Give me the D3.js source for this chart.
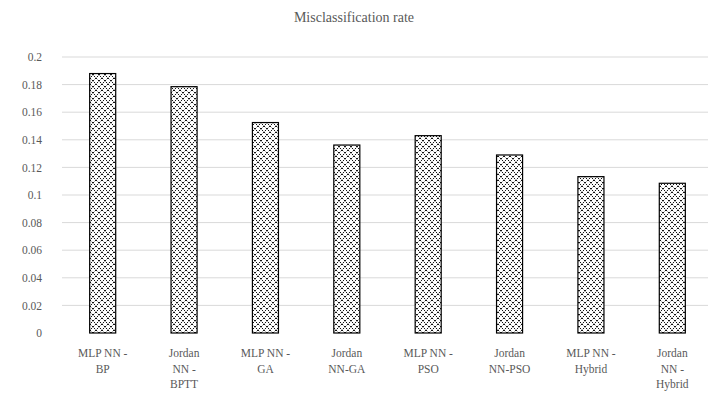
<!DOCTYPE html>
<html>
<head>
<meta charset="utf-8">
<script src="https://cdn.jsdelivr.net/npm/d3@7"></script>
<style>
  html, body { margin: 0; padding: 0; background: #fff; }
  svg { display: block; }
</style>
</head>
<body>
<svg id="chart" width="708" height="413"></svg>
<script>
// Misclassification rate per network / training method
const categories = [
  ["MLP NN -", "BP"],
  ["Jordan", "NN -", "BPTT"],
  ["MLP NN -", "GA"],
  ["Jordan", "NN-GA"],
  ["MLP NN -", "PSO"],
  ["Jordan", "NN-PSO"],
  ["MLP NN -", "Hybrid"],
  ["Jordan", "NN -", "Hybrid"]
];
const names = categories.map(c => c.join(" "));
const rates = [0.188, 0.1785, 0.1525, 0.1362, 0.143, 0.129, 0.1133, 0.1085];
const yTicks = [0, 0.02, 0.04, 0.06, 0.08, 0.1, 0.12, 0.14, 0.16, 0.18, 0.2];
const yTickLabels = ["0", "0.02", "0.04", "0.06", "0.08", "0.1", "0.12", "0.14", "0.16", "0.18", "0.2"];
const title = "Misclassification rate";

const svg = d3.select("#chart");
const font = "'Liberation Serif', 'DejaVu Serif', serif";
const textColor = "#595959";

const x = d3.scaleBand().domain(names).range([62, 713]).paddingInner(0.68).paddingOuter(0.34);
const y = d3.scaleLinear().domain([0, 0.2]).range([333, 57]);

// hatch fill for the bars
const defs = svg.append("defs");
const pat = defs.append("pattern")
  .attr("id", "weave")
  .attr("patternUnits", "userSpaceOnUse")
  .attr("width", 6).attr("height", 6);
pat.append("rect").attr("width", 6).attr("height", 6).attr("fill", "#fff");
pat.append("path")
  .attr("d", "M0,0 L6,6 M6,0 L0,6")
  .attr("stroke", "#111").attr("stroke-width", 1)
  .attr("stroke-dasharray", "1.8,1")
  .attr("fill", "none");

// title
svg.append("text")
  .attr("x", 354).attr("y", 22)
  .attr("text-anchor", "middle")
  .attr("font-family", font).attr("font-size", 14)
  .attr("fill", textColor)
  .text(title);

// gridlines
svg.append("g")
  .selectAll("line")
  .data(yTicks.filter(t => t > 0))
  .join("line")
  .attr("x1", 62).attr("x2", 708)
  .attr("y1", d => y(d)).attr("y2", d => y(d))
  .attr("stroke", "#d9d9d9").attr("stroke-width", 1);

// y axis labels
const yAxis = d3.axisLeft(y)
  .tickValues(yTicks)
  .tickFormat((d, i) => yTickLabels[i])
  .tickSize(0).tickPadding(0);
const gy = svg.append("g").attr("transform", "translate(42,0)").call(yAxis);
gy.select(".domain").remove();
gy.selectAll("text")
  .attr("font-family", font).attr("font-size", 11.5)
  .attr("fill", textColor);

// bars
svg.append("g")
  .selectAll("rect")
  .data(rates)
  .join("rect")
  .attr("x", (d, i) => x(names[i]))
  .attr("y", d => y(d))
  .attr("width", x.bandwidth())
  .attr("height", d => y(0) - y(d))
  .attr("fill", "url(#weave)")
  .attr("stroke", "#000").attr("stroke-width", 1.2);

// category labels
const xAxis = d3.axisBottom(x).tickSize(0).tickFormat("");
const gx = svg.append("g").attr("transform", "translate(0,333)").call(xAxis);
gx.select(".domain").remove();
gx.selectAll(".tick").each(function (d, i) {
  const t = d3.select(this).append("text")
    .attr("text-anchor", "middle")
    .attr("font-family", font).attr("font-size", 11.5)
    .attr("fill", textColor);
  categories[i].forEach((line, j) => {
    t.append("tspan").attr("x", 0).attr("y", 24 + j * 15.5).text(line);
  });
});
</script>
</body>
</html>
